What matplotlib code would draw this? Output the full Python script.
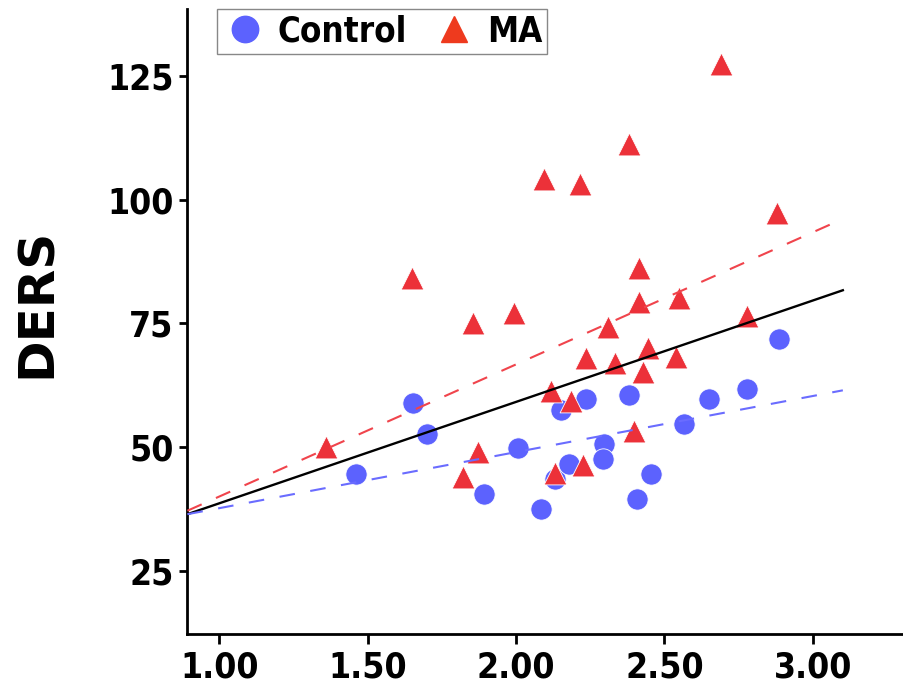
import matplotlib
matplotlib.use('Agg')
import matplotlib.pyplot as plt
from matplotlib.lines import Line2D

# Control group (blue circles)
control_x = [1.462, 1.652, 1.701, 1.893, 2.006, 2.083, 2.132, 2.150, 2.179, 2.237,
             2.297, 2.293, 2.379, 2.406, 2.456, 2.565, 2.650, 2.779, 2.885]
control_y = [44.7, 58.9, 52.7, 40.6, 49.8, 37.6, 43.6, 57.6, 46.7, 59.8,
             50.7, 47.7, 60.6, 39.6, 44.7, 54.7, 59.8, 61.8, 71.8]

# MA group (red triangles)
ma_x = [1.359, 1.650, 1.821, 1.854, 1.872, 1.994, 2.095, 2.214, 2.117, 2.132,
        2.184, 2.227, 2.237, 2.311, 2.332, 2.379, 2.398, 2.414, 2.414, 2.429,
        2.445, 2.538, 2.548, 2.689, 2.779, 2.878]
ma_y = [50.0, 84.2, 44.1, 75.1, 49.1, 77.1, 104.2, 103.2, 61.3, 44.9,
        59.3, 46.5, 68.0, 74.2, 67.1, 111.2, 53.2, 86.2, 79.3, 65.1,
        70.0, 68.3, 80.1, 127.3, 76.6, 97.3]

# fit lines (end points)
fit_x = [0.893, 3.101]
fit_all = [36.5, 81.7]
fit_ma = [37.2, 96.1]
fit_control = [36.5, 61.5]

xticks = [1.0, 1.5, 2.0, 2.5, 3.0]
xtick_labels = ['1.00', '1.50', '2.00', '2.50', '3.00']
yticks = [25, 50, 75, 100, 125]

blue = '#5c62fe'
red = '#ec3139'

font = {'family': 'DejaVu Sans', 'stretch': 'condensed', 'weight': 'bold'}

fig = plt.figure(figsize=(9.04, 6.89), dpi=100)
ax = fig.add_axes([0.2073, 0.0804, 0.7927, 0.9068])

ax.scatter(control_x, control_y, s=235, marker='o', color=blue,
           edgecolors='white', linewidths=0.6, zorder=2)
ax.scatter(ma_x, ma_y, s=270, marker='^', color=red,
           edgecolors='white', linewidths=0.6, zorder=3)

# regression lines sit on top of the points
ax.plot(fit_x, fit_all, color='black', lw=1.7, zorder=4)
ax.plot(fit_x, fit_ma, color='#f0444c', lw=1.5, dashes=(7.5, 7.5), zorder=4)
ax.plot(fit_x, fit_control, color='#6a6cff', lw=1.5, dashes=(7.5, 7.5), zorder=4)

ax.set_xlim(0.893, 3.307)
ax.set_ylim(12.4, 138.5)

for s in ['top', 'right']:
    ax.spines[s].set_visible(False)
for s in ['left', 'bottom']:
    ax.spines[s].set_linewidth(2)

ax.set_xticks(xticks)
ax.set_xticklabels(xtick_labels, fontdict=font, fontsize=25.5)
ax.set_yticks(yticks)
ax.set_yticklabels([str(v) for v in yticks], fontdict=font, fontsize=25.5)
ax.tick_params(axis='x', length=7, width=2, pad=5)
ax.tick_params(axis='y', length=6, width=2, pad=4)

fig.text(0.041, 0.56, 'DERS', rotation=90, ha='center', va='center',
         family='DejaVu Sans', weight='bold', fontsize=36)

handles = [
    Line2D([], [], marker='o', ls='', color=blue, markersize=19),
    Line2D([], [], marker='^', ls='', color='#ee3a1e', markersize=19),
]
leg = fig.legend(handles, ['Control', 'MA'], loc='upper left',
                 bbox_to_anchor=(216.7 / 904, 1 - 9.3 / 689), ncol=2,
                 prop={'family': 'DejaVu Sans', 'stretch': 'condensed',
                       'weight': 'bold', 'size': 25},
                 frameon=True, fancybox=False, framealpha=1, edgecolor='#888888',
                 borderaxespad=0, handletextpad=0.27, columnspacing=0.7,
                 handlelength=1.33, borderpad=0.15)
leg.get_frame().set_linewidth(1.0)

plt.savefig('out.png', dpi=100)
